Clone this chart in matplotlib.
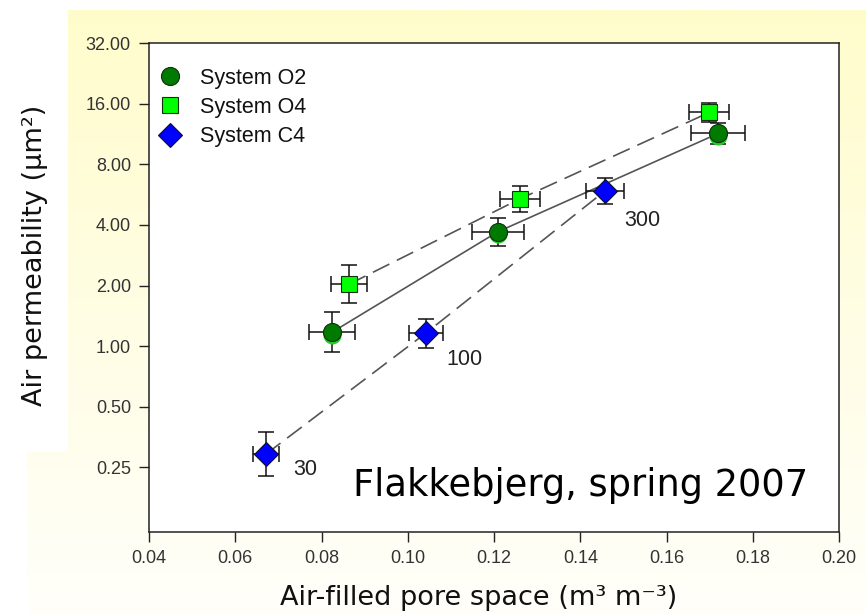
import numpy as np
import matplotlib.pyplot as plt
from matplotlib.patches import Rectangle
from matplotlib.transforms import offset_copy

# air-filled porosity (m3/m3) and air permeability (um2), Flakkebjerg spring 2007
o2_x = [0.0824, 0.1209, 0.1720]
o2_y = [1.17, 3.70, 11.4]
o2_xerr = [0.0053, 0.0060, 0.0063]
o2_ylo = [0.93, 3.15, 10.1]
o2_yhi = [1.47, 4.34, 12.8]

o4_x = [0.0864, 0.1260, 0.1699]
o4_y = [2.03, 5.39, 14.5]
o4_xerr = [0.0042, 0.0047, 0.0046]
o4_ylo = [1.63, 4.63, 13.0]
o4_yhi = [2.53, 6.28, 16.2]

c4_x = [0.0671, 0.1042, 0.1457]
c4_y = [0.29, 1.16, 5.9]
c4_xerr = [0.0030, 0.0040, 0.0044]
c4_ylo = [0.226, 0.98, 5.06]
c4_yhi = [0.372, 1.37, 6.87]
c4_labels = ['30', '100', '300']
c4_label_offsets = [(28, -11), (28, -19), (27, -21)]

yticks = [0.25, 0.5, 1, 2, 4, 8, 16, 32]
xticks = [0.04, 0.06, 0.08, 0.10, 0.12, 0.14, 0.16, 0.18, 0.20]

W, H = 866, 614
fig = plt.figure(figsize=(W / 100, H / 100), dpi=100)
fig.patch.set_facecolor('white')

# pale yellow backdrop fading to white
bg = fig.add_axes([0, 0, 1, 1], zorder=-10)
bg.axis('off')
t = np.linspace(0, 1, 256)[:, None]
top = np.array([255, 252, 204]) / 255
bot = np.array([255, 255, 250]) / 255
grad = (top * (1 - t) + bot * t)[:, None, :] * np.ones((1, 4, 1))
bg.imshow(grad, extent=(27, W, H, 10), aspect='auto', interpolation='bilinear')
bg.add_patch(Rectangle((0, 0), 68, 452, facecolor='white', edgecolor='none'))
bg.set_xlim(0, W)
bg.set_ylim(H, 0)

ax = fig.add_axes([149 / W, 1 - 532 / H, 690 / W, 488.7 / H])
ax.set_facecolor('white')
ax.set_yscale('log')

line_col = '#555555'
ax.plot(o2_x, o2_y, '-', color=line_col, lw=1.2, zorder=1)
ax.plot(o4_x, o4_y, '-', color=line_col, lw=1.2, dashes=(11, 5), zorder=1)
ax.plot(c4_x, c4_y, '-', color=line_col, lw=1.2, dashes=(11, 5), zorder=1)

for x, y, xe, lo, hi in [(o2_x, o2_y, o2_xerr, o2_ylo, o2_yhi),
                         (o4_x, o4_y, o4_xerr, o4_ylo, o4_yhi),
                         (c4_x, c4_y, c4_xerr, c4_ylo, c4_yhi)]:
    yerr = [np.array(y) - np.array(lo), np.array(hi) - np.array(y)]
    ax.errorbar(x, y, xerr=xe, yerr=yerr, fmt='none', ecolor='#111111',
                elinewidth=1.1, capsize=5.5, capthick=1.1, zorder=2)

# circles have a lighter green rim showing underneath
shadow = offset_copy(ax.transData, fig=fig, x=0, y=-2.5, units='dots')
ax.plot(o2_x, o2_y, 'o', ms=13, mfc='#22cc22', mec='none', transform=shadow, zorder=3)
ax.plot(o2_x, o2_y, 'o', ms=13, mfc='#007a00', mec='#103010', mew=0.8,
        zorder=4, label='System O2')
ax.plot(o4_x, o4_y, 's', ms=11.5, mfc='#00ff00', mec='#103010', mew=0.8,
        zorder=4, label='System O4')
ax.plot(c4_x, c4_y, 'D', ms=12, mfc='#0000ff', mec='#101030', mew=0.8,
        zorder=4, label='System C4')

for x, y, s, off in zip(c4_x, c4_y, c4_labels, c4_label_offsets):
    ax.annotate(s, xy=(x, y), xytext=off, textcoords='offset points',
                ha='center', va='center', fontsize=15.5, color='#222222',
                family='Liberation Sans')

ax.set_xlim(0.04, 0.20)
ax.set_ylim(0.119, 32)
ax.set_xticks(xticks)
ax.set_xticklabels(['%.2f' % v for v in xticks])
ax.set_yticks(yticks)
ax.set_yticklabels(['%.2f' % v for v in yticks])
ax.minorticks_off()
ax.tick_params(direction='out', length=7, width=1, color='#222222',
               labelsize=13, labelcolor='#333333', pad=6, top=False, right=False)
for lab in ax.get_xticklabels() + ax.get_yticklabels():
    lab.set_family('Liberation Sans')
for sp in ax.spines.values():
    sp.set_color('#222222')
    sp.set_linewidth(1.1)

leg = ax.legend(loc='upper left', bbox_to_anchor=(-0.013, 0.985), frameon=False,
                prop={'family': 'Liberation Sans', 'size': 15.5},
                handletextpad=0.8, labelspacing=0.38, borderaxespad=0.4,
                handlelength=1.2)
for txt in leg.get_texts():
    txt.set_color('#111111')

ax.text(0.955, 0.095, 'Flakkebjerg, spring 2007', transform=ax.transAxes,
        ha='right', va='center', fontsize=26.5, color='#000000')

fig.text(479 / W, 1 - 598 / H, 'Air-filled pore space (m³ m⁻³)', ha='center',
         va='center', fontsize=19.5, color='#111111')
fig.text(35 / W, 1 - 255 / H, 'Air permeability (μm²)', ha='center',
         va='center', rotation=90, fontsize=19.5, color='#111111')

fig.savefig('out.png', dpi=100)
